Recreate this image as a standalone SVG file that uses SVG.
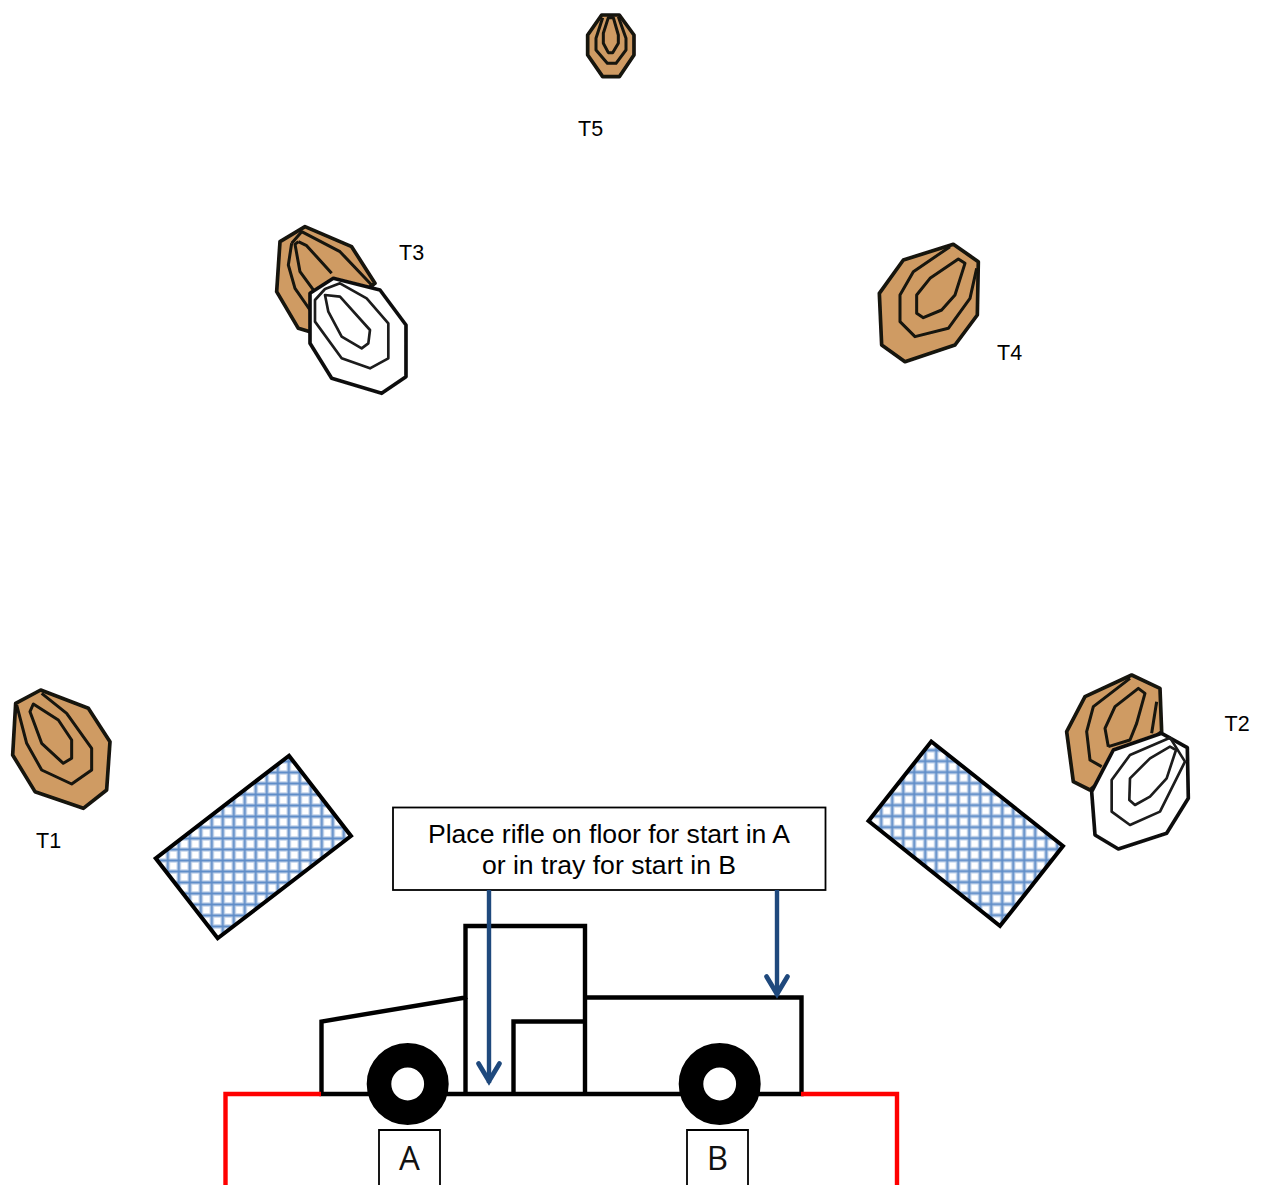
<svg xmlns="http://www.w3.org/2000/svg" width="1263" height="1185" viewBox="0 0 1263 1185">
<style>
text{font-family:"Liberation Sans",Arial,sans-serif;fill:#000}
.lbl{font-size:21.5px}
.box{fill:#fff;stroke:#000;stroke-width:1.8}
.msg{font-size:26.6px;text-anchor:middle}
.ab{font-family:"Open Sans","Liberation Sans",sans-serif;font-size:33px;text-anchor:middle;fill:#111}
.t{filter:url(#soft);stroke-linejoin:round}
.t polygon,.t polyline{stroke:#151210;stroke-width:11}
.t polyline,.t .in{fill:none;stroke-width:9}
.br .o{fill:#cf9b63}
.wh .o{fill:#fff}
.wh polyline,.wh .in{stroke:#1c1c1c;stroke-width:8}
.wh .o{stroke:#111;stroke-width:11}
.tr{fill:none;stroke:#000;stroke-width:4.4;stroke-linejoin:miter;stroke-linecap:square}
.red{fill:none;stroke:#f00;stroke-width:4.4;stroke-linejoin:miter}
.sh{stroke:#000;stroke-width:4;stroke-linejoin:miter}
.arr{fill:none;stroke:#1f497d;stroke-width:4.4}
</style>
<defs>
<filter id="soft" x="-5%" y="-5%" width="110%" height="110%"><feGaussianBlur stdDeviation="2.2"/></filter>
<pattern id="g1" patternUnits="userSpaceOnUse" width="11" height="11" x="-2.7" y="-3">
<rect width="11" height="11" fill="#fff"/>
<path d="M5.5 0V11M0 5.5H11" stroke="#c3d4ea" stroke-width="4.4" fill="none"/>
<path d="M5.5 0V11M0 5.5H11" stroke="#5f8dc8" stroke-width="2" fill="none"/>
</pattern>
<pattern id="g2" patternUnits="userSpaceOnUse" width="11" height="11" x="-4.3" y="-3.3">
<rect width="11" height="11" fill="#fff"/>
<path d="M5.5 0V11M0 5.5H11" stroke="#c3d4ea" stroke-width="4.4" fill="none"/>
<path d="M5.5 0V11M0 5.5H11" stroke="#5f8dc8" stroke-width="2" fill="none"/>
</pattern>
<marker id="head" markerUnits="userSpaceOnUse" markerWidth="30" markerHeight="30" viewBox="-15 -27 30 30" refX="0" refY="0" orient="0" overflow="visible">
<path d="M-10.5 -19.5L0 -2L10.5 -19.5" fill="none" stroke="#1f497d" stroke-width="4.8" stroke-linecap="round" stroke-linejoin="miter"/>
</marker>
</defs>

<g id="T5" class="t br" transform="translate(570 5) scale(.3333)">
<polygon class="o" points="95,30 148,30 192,90 192,150 148,215 98,215 53,150 53,90"/>
<polyline points="98,38 78,100 78,135 112,175 138,175 168,135 168,100 145,35"/>
<polygon class="in" points="115,38 130,38 145,90 145,115 128,143 115,143 100,115 100,85"/>
</g>
<text id="T5-label" class="lbl" x="578" y="136">T5</text>

<g id="T3-brown" class="t br" transform="translate(260 215) scale(.3333)">
<polygon class="o" points="135,35 275,95 345,205 150,350 115,340 50,230 60,80"/>
<polyline points="95,85 85,150 105,220 150,285"/>
<polyline points="95,85 125,50 240,110 340,215"/>
<polyline points="115,80 140,92 215,175"/>
<polyline points="115,80 105,88 120,170 160,225"/>
</g>
<g id="T3-white" class="t wh" transform="translate(260 215) scale(.3333)">
<polygon class="o" points="220,190 360,225 438,330 438,485 365,535 215,490 150,385 150,235"/>
<polygon class="in" points="195,222 240,205 320,250 385,325 385,430 330,460 245,430 165,320 165,255"/>
<polygon class="in" points="195,240 240,245 330,345 325,385 305,400 245,365 205,290"/>
</g>
<text id="T3-label" class="lbl" x="399" y="260">T3</text>

<g id="T4" class="t br" transform="translate(870 235) scale(.3333)">
<polygon class="o" points="250,28 325,80 322,240 255,330 105,380 35,330 28,175 100,75"/>
<polyline points="240,35 130,110 90,180 90,260 135,305 235,280 300,190 320,100"/>
<polygon class="in" points="265,72 285,85 255,180 215,225 160,248 140,235 140,180 180,130"/>
</g>
<text id="T4-label" class="lbl" x="997" y="360">T4</text>

<g id="T1" class="t br" transform="translate(0 680) scale(.3333)">
<polygon class="o" points="122,30 265,85 330,185 320,330 250,385 105,335 38,225 47,70"/>
<polyline points="50,75 80,190 125,270 215,312 275,270 275,205 200,100 125,40"/>
<polygon class="in" points="100,72 90,95 125,190 190,250 215,235 215,180 175,120"/>
</g>
<text id="T1-label" class="lbl" x="36" y="848">T1</text>

<g id="T2-brown" class="t br" transform="translate(1050 665) scale(.3333)">
<polygon class="o" points="245,30 330,70 335,200 120,375 70,350 50,200 105,95"/>
<polyline points="240,40 130,125 110,200 120,285 155,305"/>
<polyline points="320,110 305,205"/>
<polyline points="175,245 165,190 195,125 265,70 285,85 260,175 240,225 175,245"/>
</g>
<g id="T2-white" class="t wh" transform="translate(1050 665) scale(.3333)">
<polygon class="o" points="335,205 412,248 415,400 350,505 205,552 135,510 125,380 190,255"/>
<polygon class="in" points="360,218 405,290 330,440 240,480 185,440 185,345 240,270"/>
<polygon class="in" points="360,245 378,255 350,340 300,395 255,420 238,405 240,340 300,280"/>
</g>
<text id="T2-label" class="lbl" x="1224.5" y="731">T2</text>

<g id="shield-left"><polygon class="sh" fill="url(#g1)" points="289,755.7 351,836 217.7,938.3 155.7,858.3"/></g>
<g id="shield-right"><polygon class="sh" fill="url(#g2)" points="931.3,741.5 1063,846 1000,926 868.5,821"/></g>

<g id="truck">
<path class="tr" d="M321.5 1094V1021.5L465.5 997.5M465.5 1094V926H585V1094M585 997.5H801.5V1094M513.5 1094V1021.5H585M323 1094H800"/>
<circle cx="407.7" cy="1084" r="28.7" fill="#fff" stroke="#000" stroke-width="24.6"/>
<circle cx="719.7" cy="1084" r="28.7" fill="#fff" stroke="#000" stroke-width="24.6"/>
</g>
<g id="floor">
<path class="red" d="M321 1094H225.5V1185"/>
<path class="red" d="M801 1094H897V1185"/>
</g>

<g id="start-A"><path class="box" d="M379 1185V1130H440V1185"/><text class="ab" x="409.5" y="1170">A</text></g>
<g id="start-B"><path class="box" d="M687 1185V1130H748V1185"/><text class="ab" x="717.5" y="1170">B</text></g>

<g id="note">
<rect class="box" x="393" y="807.5" width="432.5" height="82.5"/>
<text class="msg" x="609" y="843">Place rifle on floor for start in A</text>
<text class="msg" x="609" y="874">or in tray for start in B</text>
</g>

<g id="connectors">
<path class="arr" d="M489 890V1083" marker-end="url(#head)"/>
<path class="arr" d="M777 890V996" marker-end="url(#head)"/>
</g>
</svg>
